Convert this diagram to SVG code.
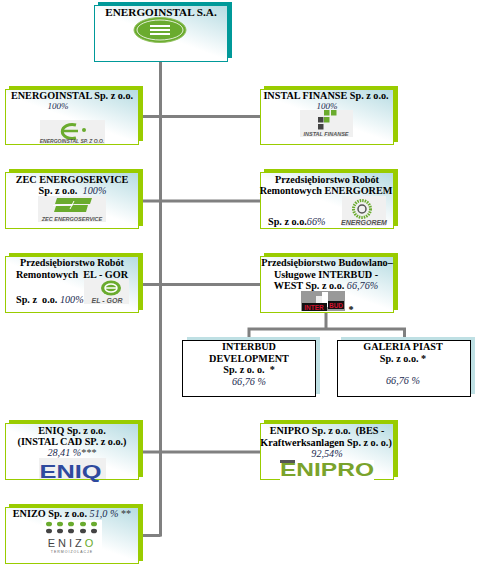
<svg xmlns="http://www.w3.org/2000/svg" width="480" height="568" viewBox="0 0 480 568">
<style>
text{font-family:"Liberation Serif","Times New Roman",serif;font-size:10.2px;font-weight:bold;fill:#000;text-anchor:middle;white-space:pre}
.i{font-style:italic;font-weight:normal;fill:#1a2a50}
.sm{font-size:9px}
.sg{fill:#9c0}.st{fill:#099}.sb{fill:#bfe0e4}
.b{fill:url(#g);stroke:#9c0;stroke-width:1}
.t{fill:url(#g);stroke:#099;stroke-width:1}
.w{fill:#fff;stroke:#000;stroke-width:1}
.c{fill:none;stroke:#808080;stroke-width:3}
.lg{fill:#6aab2e}.dk{fill:#444}.lb{fill:#f0f0f0}
.lt{font-family:"Liberation Sans",Arial,sans-serif;font-style:italic;font-size:5.500px;fill:#555}
</style>
<defs>
<linearGradient id="g" x1="1" y1="0" x2="0.25" y2="0.85"><stop offset="0" stop-color="#b5dbe2"/><stop offset="0.65" stop-color="#fff"/></linearGradient>
</defs>
<g id="connectors" class="c">
<path class="c" d="M160.500 61V536.500M143 116.500H260M143 201H260M143 284.500H260M143 452H260M143 535.500H160.500"/>
<path class="c" d="M326 312V329M249 340V329H404.500V340"/>
</g>
<g id="n-energoinstal-sa">
<rect class="st" x="98" y="2" width="134" height="56"/><rect class="t" x="94.500" y="5.500" width="133" height="56"/>
<text x="161" y="16" style="font-size:11.200px">ENERGOINSTAL S.A.</text>
<ellipse cx="160" cy="30" rx="26" ry="12.500" fill="#6aab2e" stroke="#8fc15c" stroke-width="1"/>
<ellipse cx="160" cy="30" rx="23" ry="10" fill="none" stroke="#fff" stroke-width="0.800"/>
<path d="M150 26H170M150 30H170M150 34H170" stroke="#fff" stroke-width="1.800" fill="none"/>
</g>
<g id="n-energoinstal">
<rect class="sg" x="9" y="86" width="134" height="55"/><rect class="b" x="5.500" y="89.500" width="133" height="55"/>
<text x="72" y="99">ENERGOINSTAL Sp. z o.o.</text>
<text class="i sm" x="58" y="109">100%</text>
<rect class="lb" x="40" y="120" width="65" height="24"/>
<path d="M76 125A10 7 0 1 0 76 138" fill="none" stroke="#6aab2e" stroke-width="3"/><path d="M62 131H78" stroke="#6aab2e" stroke-width="2.500"/><circle cx="84" cy="130" r="2" fill="#6aab2e"/>
<text class="lt" x="72" y="143" style="font-size:5px">ENERGOINSTAL SP. Z O.O.</text>
</g>
<g id="n-instal-finanse">
<rect class="sg" x="264" y="86" width="134" height="56"/><rect class="b" x="260.500" y="89.500" width="133" height="55"/>
<text x="326" y="99">INSTAL FINANSE Sp. z o.o.</text>
<text class="i sm" x="327" y="109">100%</text>
<rect class="lb" x="300" y="110" width="53" height="27"/>
<rect class="lg" x="324" y="110" width="5.500" height="5.500"/><rect class="lg" x="331" y="110" width="5.500" height="5.500"/><rect class="lg" x="324" y="117" width="5.500" height="5.500"/>
<rect class="dk" x="318" y="117" width="5.500" height="5.500"/><rect class="dk" x="318" y="124" width="5.500" height="5.500"/>
<text class="lt" x="326" y="136">INSTAL FINANSE</text>
</g>
<g id="n-zec">
<rect class="sg" x="9" y="169" width="134" height="57"/><rect class="b" x="5.500" y="172.500" width="133" height="56"/>
<text x="72" y="183">ZEC ENERGOSERVICE</text>
<text x="58" y="194">Sp. z o.o.</text><text class="i" x="94.500" y="194">100%</text>
<rect class="lb" x="38" y="196" width="68" height="26"/>
<path d="M57 198H92L90 204H74L72 205H88L86 212H54L56 206H72L74 204H55Z" fill="#6aab2e"/>
<path d="M53 205.500L73 204.500M74 201L70 209" stroke="#fff" stroke-width="1" fill="none"/>
<text class="lt" x="72" y="221">ZEC ENERGOSERVICE</text>
</g>
<g id="n-energorem">
<rect class="sg" x="264" y="169" width="134" height="57"/><rect class="b" x="260.500" y="172.500" width="133" height="56"/>
<text x="327" y="183">Przedsiębiorstwo Robót</text>
<text x="326" y="194">Remontowych ENERGOREM</text>
<text x="268" y="225" style="text-anchor:start">Sp. z o.o.<tspan class="i">66%</tspan></text>
<rect class="lb" x="342" y="196" width="44" height="30"/>
<circle cx="362" cy="209" r="8.500" fill="none" stroke="#6aab2e" stroke-width="3" stroke-dasharray="1.500 1"/>
<circle cx="362" cy="209" r="4" fill="none" stroke="#555" stroke-width="1.500"/>
<text class="lt" x="364" y="225" style="font-size:7px">ENERGOREM</text>
</g>
<g id="n-el-gor">
<rect class="sg" x="9" y="253" width="134" height="57"/><rect class="b" x="5.500" y="256.500" width="133" height="56"/>
<text x="72" y="266">Przedsiębiorstwo Robót</text>
<text x="72" y="278">Remontowych  EL - GOR</text>
<text x="16" y="303" style="text-anchor:start">Sp. z  o.o. <tspan class="i">100%</tspan></text>
<rect class="lb" x="84" y="279" width="45" height="25"/>
<ellipse cx="111" cy="288" rx="10" ry="7.500" fill="#6aab2e"/>
<ellipse cx="111" cy="288" rx="6" ry="4" fill="none" stroke="#fff" stroke-width="1.500"/>
<path d="M105 288H117" stroke="#fff" stroke-width="1.500"/>
<text class="lt" x="107" y="303" style="font-size:7px">EL - GOR</text>
</g>
<g id="n-interbud-west">
<rect class="sg" x="264" y="253" width="134" height="57"/><rect class="b" x="260.500" y="256.500" width="133" height="56"/>
<text x="327" y="266">Przedsiębiorstwo Budowlano–</text>
<text x="326" y="278">Usługowe INTERBUD -</text>
<text x="326" y="289">WEST Sp. z o.o. <tspan class="i">66,76%</tspan></text>
<rect x="301" y="291" width="44" height="20" fill="#999"/>
<rect x="322" y="292" width="6" height="15" fill="#fff"/><rect x="316" y="296" width="6" height="11" fill="#eee"/>
<rect x="302" y="303" width="25" height="8" fill="#111"/><rect x="328" y="301" width="16" height="8" fill="#111"/>
<text x="314" y="310" style="font-family:'Liberation Sans',sans-serif;font-size:6.500px;fill:#d2122e">INTER</text>
<text x="336" y="307.500" style="font-family:'Liberation Sans',sans-serif;font-size:6.500px;fill:#d2122e">BUD</text>
<text x="351" y="313">*</text>
</g>
<g id="n-interbud-dev">
<rect class="sb" x="187" y="337" width="133" height="57"/><rect class="w" x="182.500" y="340.500" width="133" height="56"/>
<text x="249" y="350">INTERBUD</text>
<text x="249" y="362">DEVELOPMENT</text>
<text x="249" y="373">Sp. z o. o.  *</text>
<text class="i" x="249" y="385">66,76 %</text>
</g>
<g id="n-galeria">
<rect class="sb" x="341" y="337" width="134" height="57"/><rect class="w" x="337.500" y="340.500" width="133" height="56"/>
<text x="403" y="350">GALERIA PIAST</text>
<text x="403" y="362">Sp. z o.o. *</text>
<text class="i" x="403" y="384">66,76 %</text>
</g>
<g id="n-eniq">
<rect class="sg" x="9" y="420" width="134" height="57"/><rect class="b" x="5.500" y="423.500" width="133" height="56"/>
<text x="72" y="434">ENIQ Sp. z o.o.</text>
<text x="72" y="445">(INSTAL CAD SP. z o.o.)</text>
<text x="72" y="456"><tspan class="i">28,41 %</tspan><tspan style="font-weight:normal;fill:#333">***</tspan></text>
<rect class="lb" x="39" y="458" width="67" height="21"/>
<text x="70.500" y="478" textLength="62" lengthAdjust="spacingAndGlyphs" style="font-family:'Liberation Sans',sans-serif;font-size:19px;fill:#2f4a9e">ENIQ</text>
</g>
<g id="n-enipro">
<rect class="sg" x="264" y="420" width="134" height="57"/><rect class="b" x="260.500" y="423.500" width="133" height="56"/>
<text x="327" y="434">ENIPRO Sp. z o.o.  (BES -</text>
<text x="326" y="446">Kraftwerksanlagen Sp. z o. o.)</text>
<text class="i" x="327" y="457">92,54%</text>
<rect x="280" y="460" width="94" height="20" fill="#fff"/>
<rect x="280" y="460" width="15" height="3" fill="#555"/>
<text x="327" y="476" textLength="94" lengthAdjust="spacingAndGlyphs" style="font-family:'Liberation Sans',sans-serif;font-size:18px;fill:#7aa32c">ENIPRO</text>
</g>
<g id="n-enizo">
<rect class="sg" x="9" y="504" width="134" height="57"/><rect class="b" x="5.500" y="507.500" width="133" height="56"/>
<text x="72" y="517">ENIZO Sp. z o.o. <tspan class="i">51,0 %</tspan> <tspan style="font-weight:normal;fill:#333">**</tspan></text>
<rect x="42" y="520" width="60" height="33" fill="#fff"/>
<g fill="#6aab2e"><ellipse cx="49" cy="524" rx="3" ry="2.300"/><ellipse cx="60" cy="524" rx="3" ry="2.300"/><ellipse cx="71" cy="524" rx="3" ry="2.300"/><ellipse cx="83" cy="524" rx="3" ry="2.300"/><ellipse cx="94" cy="524" rx="3" ry="2.300"/></g>
<g fill="#444"><ellipse cx="49" cy="531" rx="3" ry="2.300"/><ellipse cx="60" cy="531" rx="3" ry="2.300"/><ellipse cx="71" cy="531" rx="3" ry="2.300"/><ellipse cx="83" cy="531" rx="3" ry="2.300"/><ellipse cx="94" cy="531" rx="3" ry="2.300"/></g>
<text x="72" y="547" style="font-family:'Liberation Sans',sans-serif;font-size:11px;font-weight:normal;letter-spacing:3px;fill:#444">ENIZ<tspan style="fill:#6aab2e">O</tspan></text>
<text x="72" y="552.500" style="font-family:'Liberation Sans',sans-serif;font-size:3.500px;font-weight:normal;letter-spacing:1px;fill:#666">TERMOIZOLACJE</text>
</g>
</svg>
